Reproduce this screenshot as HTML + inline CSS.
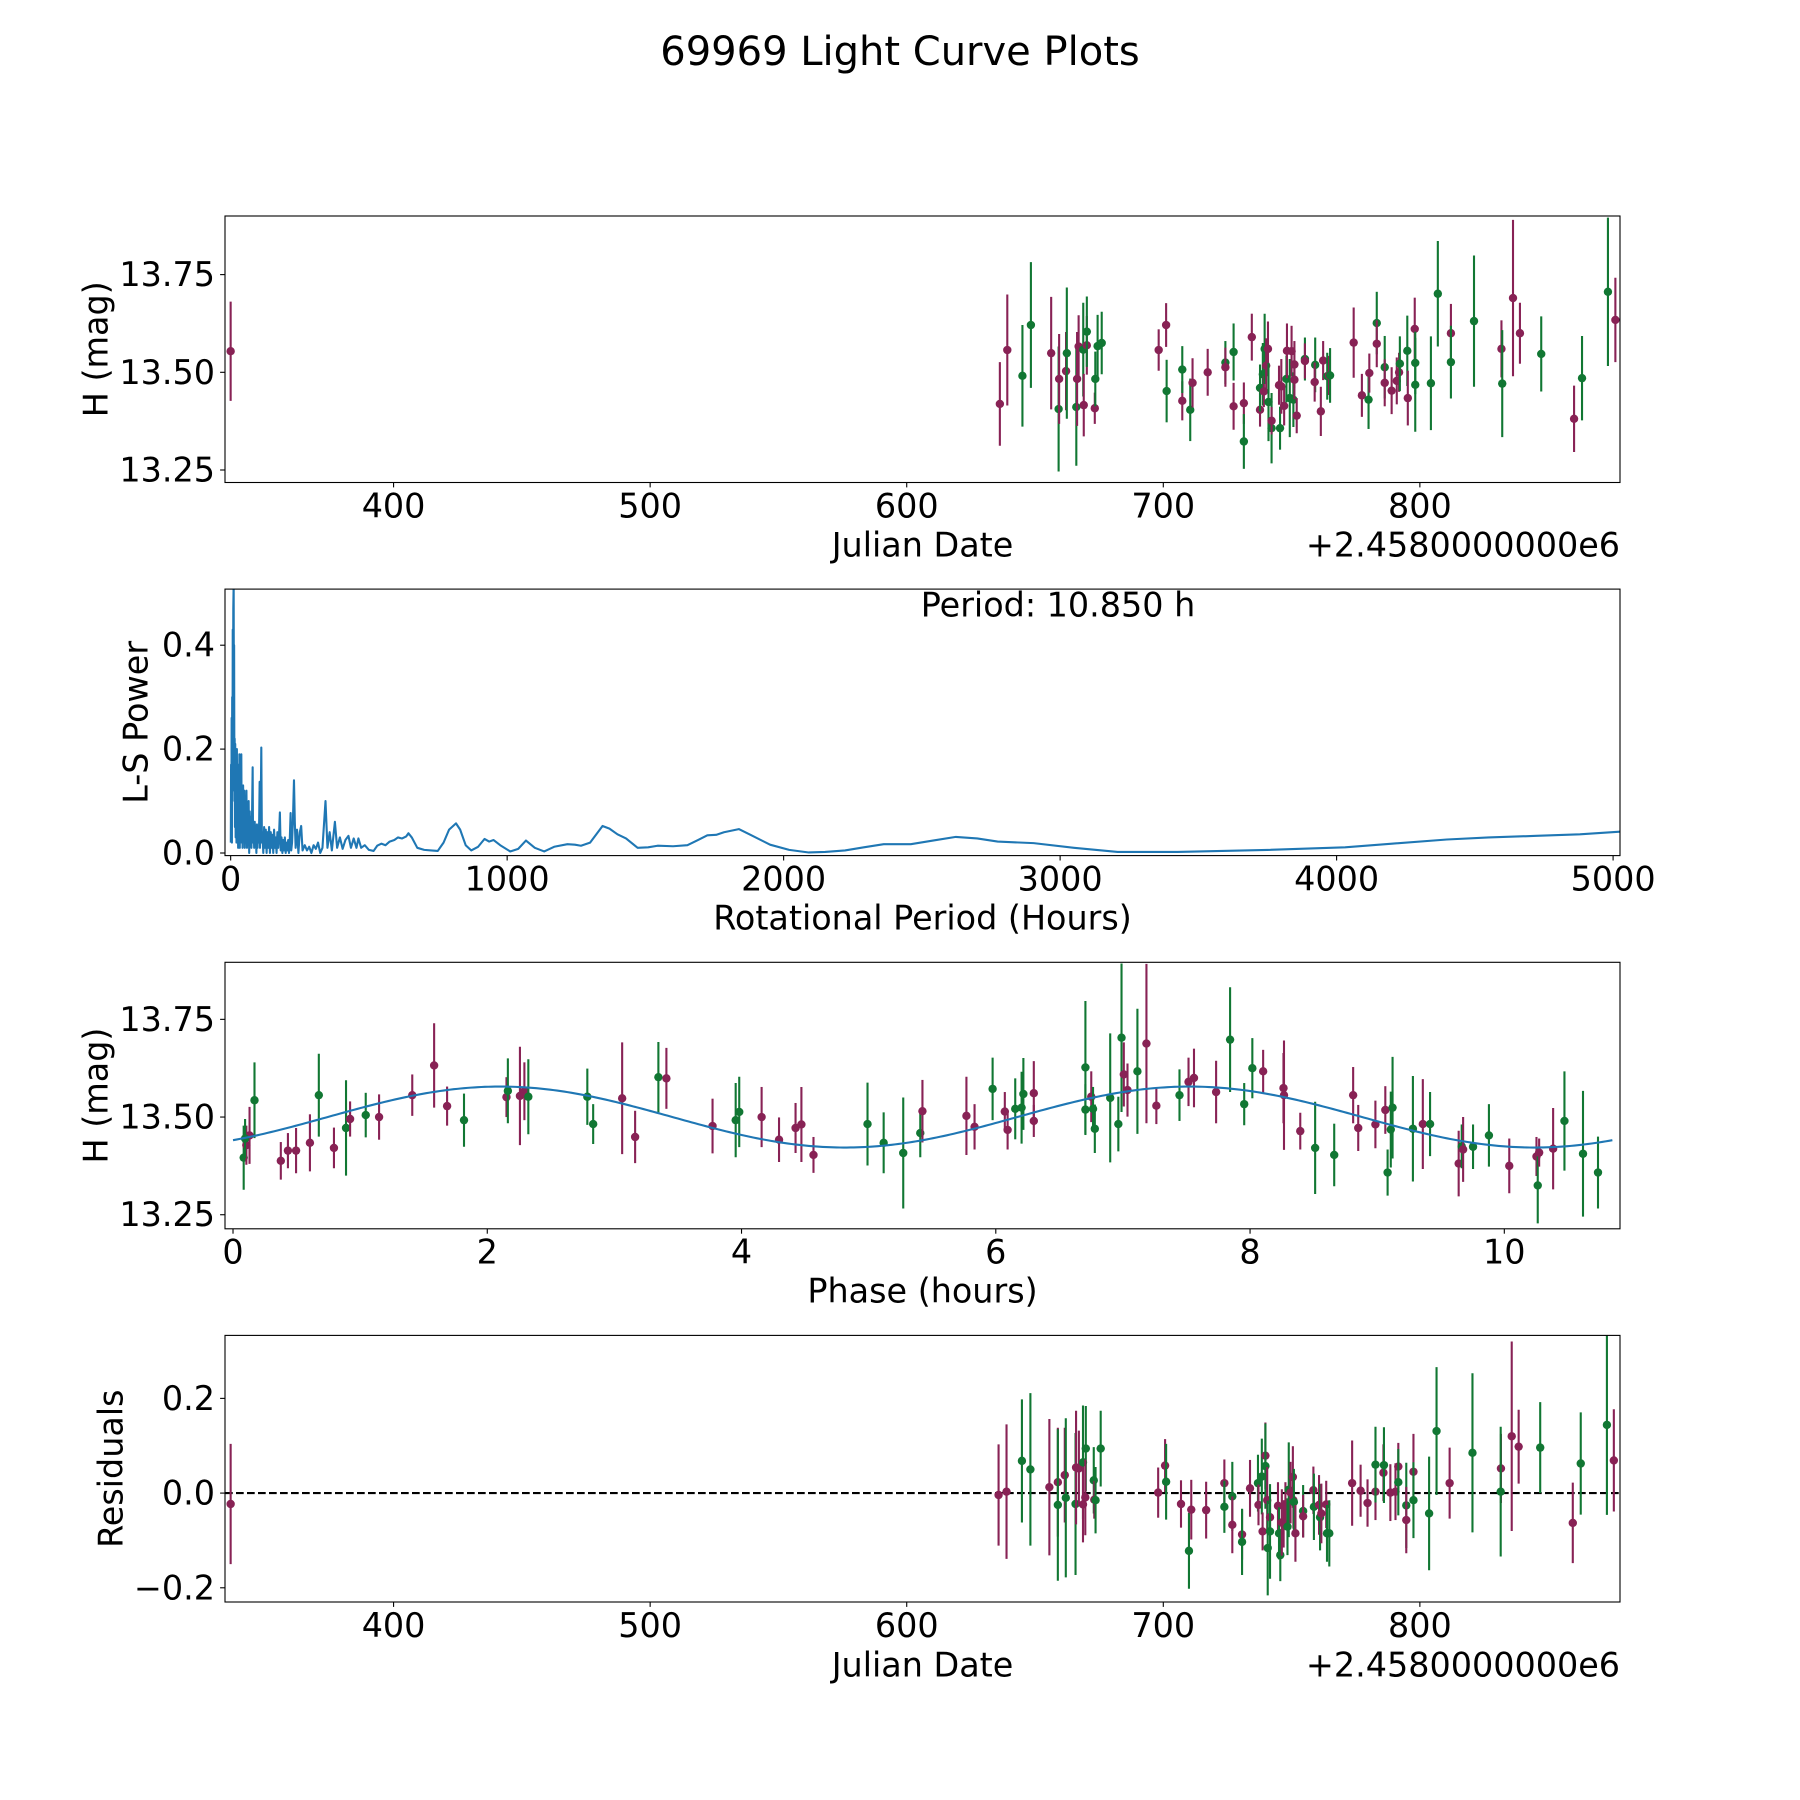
<!DOCTYPE html>
<html><head><meta charset="utf-8"><title>69969 Light Curve Plots</title>
<style>
html,body{margin:0;padding:0;background:#fff;}
svg{display:block;font-family:"DejaVu Sans","Liberation Sans",sans-serif;}
</style></head>
<body>
<svg id="fig" width="1800" height="1800" viewBox="0 0 1800 1800" xmlns="http://www.w3.org/2000/svg">
<rect x="0" y="0" width="1800" height="1800" fill="#fff"/>
<text x="900" y="52" font-size="40" text-anchor="middle" dominant-baseline="central" fill="#000">69969 Light Curve Plots</text>
</svg>
<script>
// ---- Light curve data (JD offset from 2458000, H mag, error, band 0=wine 1=green)
const obsJd = [336.5,636.3,639.2,645.1,648.4,656.3,659.2,659.4,662.1,662.4,666.1,666.4,667,668.8,669,670.2,670.2,673.3,673.5,674.4,676,
698.2,701.1,701.3,707.4,707.4,710.5,711.4,717.3,724.2,724.2,727.4,727.4,731.4,731.4,734.5,737.7,737.7,738.8,739.2,739.5,740.1,740.8,741,742.2,742.2,
745.1,745.5,746,747.1,748,748.2,749.3,750,750.7,751.1,751.1,752,755.2,755.2,759.2,759,761.4,762.3,763.9,764.6,765,
774.2,777.4,780,780.3,783.2,783.2,786.3,786.3,789,791,791.9,792.2,795.1,795.3,798,798.2,798.2,804.3,807,812.1,812.1,821.1,831.8,832.1,836.3,839,847.3,860.1,863.2,873.3,876.2];
const obsMag = [13.554,13.419,13.557,13.491,13.621,13.549,13.406,13.483,13.503,13.549,13.411,13.483,13.566,13.558,13.416,13.569,13.604,13.408,13.483,13.567,13.575,
13.557,13.621,13.452,13.427,13.507,13.404,13.473,13.5,13.525,13.513,13.413,13.552,13.421,13.323,13.59,13.404,13.46,13.495,13.451,13.56,13.517,13.56,13.424,13.357,13.376,
13.467,13.357,13.464,13.414,13.483,13.555,13.434,13.554,13.43,13.52,13.481,13.389,13.534,13.529,13.519,13.475,13.4,13.53,13.49,13.492,13.492,
13.576,13.441,13.43,13.498,13.626,13.573,13.513,13.473,13.453,13.478,13.5,13.522,13.555,13.434,13.611,13.524,13.468,13.472,13.701,13.6,13.526,13.631,13.56,13.471,13.69,13.6,13.547,13.381,13.485,13.706,13.634];
const obsErr = [0.127,0.107,0.142,0.13,0.161,0.144,0.16,0.115,0.1,0.168,0.15,0.12,0.08,0.12,0.08,0.075,0.09,0.04,0.07,0.08,0.08,
0.053,0.056,0.08,0.05,0.06,0.08,0.063,0.06,0.055,0.05,0.06,0.073,0.053,0.07,0.06,0.043,0.06,0.08,0.04,0.09,0.07,0.07,0.1,0.09,0.035,
0.05,0.055,0.07,0.05,0.06,0.07,0.1,0.065,0.07,0.06,0.05,0.045,0.055,0.045,0.07,0.05,0.063,0.05,0.06,0.05,0.07,
0.09,0.055,0.075,0.05,0.08,0.06,0.08,0.06,0.06,0.06,0.05,0.07,0.09,0.07,0.08,0.08,0.12,0.12,0.135,0.075,0.093,0.168,0.073,0.137,0.2,0.078,0.096,0.085,0.108,0.19,0.108];
const obsBand = [0,0,0,1,1,0,1,0,0,1,1,0,0,1,0,0,1,0,1,1,1,
0,0,1,0,1,1,0,0,1,0,0,1,0,1,0,0,1,1,0,1,0,0,1,1,0,
0,1,0,0,1,0,1,0,1,0,0,0,1,0,1,0,0,0,1,0,1,
0,0,1,0,1,0,1,0,0,0,0,1,1,0,0,1,1,1,1,0,1,1,0,1,0,0,1,0,1,1,0];

// ---- Periodogram data (period in hours, L-S power)
const lsPeriod = [0.5,1.5,2.5,3.5,4.5,5.5,6.5,7.5,8.5,9.5,10.85,11.5,12.5,13.5,14.5,15.5,16.5,18,19.5,21,22.5,24,25.5,27,28.5,30,31.5,33,34.5,36,37.5,38.5,40,41.5,43,45,47,49,51,53,55,57,59,61,63,65,67,69,71,73,75,77,79.5,81,83,85,87,89,91,93,95,97,99,101,103,104.8,106,108,110.8,113,115,118,121,124,127,130,133,136,139,142,145,148,151,154,157,160,163,166,169,172,175,178,181,184,187,190,193,196,199,202,205,208,211,214,216.8,219,222,225,229,232,235,240,245,250,255,260,268,276,284,292,300,308,316,324,332,343,350,358,366,377,385,395,405,415,426,435,445,455,462,472,485,500,517,530,545,560,575,592,605,620,635,643,655,675,700,725,749,770,790,815,830,850,870,895,918,935,951,975,1011,1040,1068,1100,1134,1170,1218,1245,1267,1300,1345,1370,1399,1430,1472,1510,1544,1600,1652,1690,1724,1756,1784,1838,1880,1951,2020,2091,2150,2222,2290,2362,2460,2540,2623,2700,2774,2904,3050,3208,3424,3749,4031,4200,4399,4550,4723,4880,5024];
const lsPower = [0.02,0.17,0.05,0.26,0.02,0.3,0.1,0.43,0.2,0.47,0.52,0.3,0.4,0.12,0.22,0.05,0.21,0.03,0.19,0.02,0.2,0.04,0.17,0.01,0.15,0.03,0.19,0.01,0.15,0.02,0.12,0.19,0.02,0.11,0.01,0.13,0.03,0.12,0.01,0.1,0.02,0.12,0.01,0.09,0.03,0.1,0.0,0.08,0.02,0.07,0.01,0.06,0.165,0.02,0.05,0.01,0.06,0.03,0.04,0.0,0.055,0.01,0.05,0.02,0.06,0.137,0.01,0.05,0.203,0.02,0.04,0.0,0.05,0.01,0.045,0.0,0.04,0.01,0.05,0.0,0.04,0.01,0.035,0.0,0.045,0.01,0.03,0.0,0.04,0.01,0.035,0.078,0.005,0.03,0.0,0.025,0.005,0.03,0.0,0.02,0.005,0.025,0.0,0.03,0.077,0.005,0.02,0.06,0.14,0.06,0.01,0.045,0.0,0.04,0.052,0.005,0.015,0.005,0.012,0.0,0.015,0.008,0.02,0.0,0.01,0.1,0.01,0.04,0.005,0.06,0.01,0.03,0.008,0.025,0.033,0.01,0.028,0.01,0.028,0.01,0.015,0.006,0.004,0.014,0.018,0.015,0.022,0.025,0.03,0.028,0.032,0.038,0.03,0.01,0.006,0.005,0.004,0.02,0.045,0.057,0.045,0.015,0.005,0.012,0.027,0.022,0.025,0.015,0.003,0.008,0.024,0.01,0.003,0.012,0.017,0.016,0.014,0.02,0.052,0.047,0.036,0.028,0.01,0.011,0.014,0.013,0.015,0.025,0.034,0.035,0.04,0.046,0.035,0.016,0.006,0.001,0.002,0.005,0.011,0.017,0.017,0.024,0.031,0.028,0.022,0.019,0.01,0.002,0.002,0.006,0.011,0.018,0.026,0.03,0.033,0.036,0.041];
const bestPeriod = 10.850;

// ---- Phased data (phase hours, mag, err, band)
const phHour = [0.084,0.105,0.13,0.095,0.169,0.376,0.432,0.496,0.605,0.675,0.794,0.889,0.921,1.044,1.149,1.41,1.582,1.684,1.817,2.151,2.162,2.257,2.292,2.323,2.787,2.833,3.061,3.163,3.346,3.409,3.772,3.954,3.982,4.158,4.295,4.425,4.471,4.566,4.991,5.118,5.272,5.406,
5.423,5.769,5.833,5.975,6.071,6.093,6.153,6.203,6.217,6.299,6.299,6.705,6.705,6.751,6.765,6.779,6.9,6.964,6.989,7.007,7.036,7.114,7.185,7.263,7.445,7.516,7.559,7.733,7.843,7.954,8.018,8.103,8.263,8.267,8.395,8.512,8.662,8.811,8.851,8.986,9.064,9.082,9.107,9.121,9.281,9.359,9.416,9.641,9.665,9.676,9.754,9.879,10.039,10.253,10.263,10.274,10.384,10.473,10.619,10.737];
const phMag = [13.396,13.428,13.453,13.445,13.543,13.388,13.414,13.414,13.434,13.556,13.421,13.472,13.495,13.505,13.5,13.556,13.632,13.528,13.492,13.551,13.567,13.554,13.566,13.552,13.552,13.482,13.548,13.449,13.602,13.599,13.477,13.492,13.513,13.5,13.442,13.472,13.481,13.403,13.482,13.434,13.408,13.459,
13.515,13.503,13.475,13.572,13.514,13.467,13.521,13.524,13.559,13.561,13.49,13.627,13.519,13.552,13.521,13.47,13.549,13.482,13.703,13.609,13.569,13.617,13.688,13.529,13.556,13.59,13.6,13.564,13.698,13.533,13.625,13.617,13.574,13.556,13.464,13.421,13.403,13.556,13.472,13.481,13.518,13.358,13.468,13.524,13.47,13.482,13.482,13.381,13.425,13.417,13.424,13.453,13.375,13.399,13.325,13.409,13.419,13.49,13.406,13.358];
const phErr = [0.082,0.05,0.073,0.05,0.097,0.048,0.045,0.058,0.073,0.106,0.052,0.122,0.045,0.057,0.058,0.053,0.108,0.05,0.068,0.051,0.083,0.126,0.074,0.096,0.072,0.051,0.143,0.067,0.09,0.078,0.07,0.095,0.09,0.077,0.057,0.064,0.096,0.046,0.106,0.078,0.142,0.062,
0.08,0.1,0.058,0.08,0.05,0.05,0.078,0.092,0.092,0.082,0.041,0.17,0.065,0.065,0.056,0.062,0.165,0.07,0.19,0.082,0.068,0.16,0.204,0.047,0.066,0.062,0.075,0.08,0.134,0.054,0.077,0.055,0.09,0.14,0.047,0.118,0.08,0.072,0.059,0.061,0.061,0.059,0.097,0.13,0.135,0.115,0.082,0.084,0.056,0.083,0.057,0.08,0.07,0.05,0.097,0.036,0.104,0.127,0.161,0.092];
const phBand = [1,0,0,1,1,0,0,0,0,1,0,1,0,1,0,0,0,0,1,0,1,0,0,1,1,1,0,0,1,0,0,1,1,0,0,0,0,0,1,1,1,1,
0,0,0,1,0,0,1,1,1,0,0,1,1,0,1,1,1,1,1,0,0,1,0,0,1,0,0,0,1,1,1,0,0,0,0,1,1,0,0,0,0,1,1,1,1,0,1,0,1,0,1,1,0,0,1,0,0,1,1,1];

// ---- Fit model (double-peaked sinusoid over the rotation period)
const fitMean = 13.5;
const fitAmp = 0.078;
const fitPhase0 = 0.744;

// ---- Residuals (JD offset, residual mag, band)
const resJd = [336.5,635.8,638.9,644.9,648.2,655.6,658.9,658.9,661.6,662,665.8,666,667.1,668.7,668.7,669.8,669.6,672.9,673.1,673.6,675.6,
698,700.7,701.1,706.9,710,710.9,716.7,723.8,723.8,726.9,726.9,730.7,730.7,733.8,736.9,737.1,738.4,738.7,739.8,739.8,740.5,740.7,741.6,741.6,
744.7,745.1,745.6,746.2,746.9,747.6,748.4,748.9,749.6,750.5,750.7,750.9,751.5,754.5,754.5,758.5,758.7,760.7,761.1,761.6,763.5,763.8,764.7,
773.6,776.9,779.6,782.7,782.7,785.8,786,788.5,790.5,791.6,791.6,794.7,794.7,797.5,797.5,803.6,806.5,811.6,820.5,831.6,831.5,835.8,838.5,846.9,859.6,862.7,872.9,875.6];
const resVal = [-0.023,-0.004,0.003,0.068,0.05,0.0125,0.023,-0.025,0.038,-0.01,-0.023,0.054,0.052,0.065,-0.024,0.094,-0.009,0.027,-0.014,-0.015,0.094,
0.001,0.058,0.024,-0.023,-0.122,-0.035,-0.036,0.021,-0.029,-0.007,-0.067,-0.0875,-0.103,0.01,0.021,-0.025,0.035,-0.081,0.079,0.057,-0.015,-0.116,-0.051,-0.081,
-0.027,-0.085,-0.131,-0.062,-0.065,-0.027,-0.071,0.007,0.001,0.034,-0.015,-0.019,-0.085,-0.038,-0.049,0.006,-0.029,-0.025,-0.051,-0.043,-0.024,-0.085,-0.085,
0.021,0.005,-0.021,0.003,0.06,0.043,0.059,0.001,0.003,0.056,0.023,-0.026,-0.057,0.045,-0.015,-0.043,0.131,0.021,0.085,0.052,0.003,0.12,0.098,0.096,-0.063,0.0625,0.144,0.069];
const resBand = [0,0,0,1,1,0,0,1,0,1,1,0,0,1,0,1,0,1,0,1,1,
0,0,1,0,1,0,0,0,1,1,0,0,1,0,1,0,1,0,0,1,0,1,0,1,
0,1,1,0,0,0,1,1,0,0,0,1,0,1,0,0,1,0,1,0,0,1,1,
0,0,0,0,1,0,1,0,0,0,1,1,0,0,1,1,1,0,1,0,1,0,0,1,0,1,1,0];

// ---- Tick labels
const jdTicks = [400,500,600,700,800];
const magTicks = [13.25,13.50,13.75];
const magTickLabels = ["13.25","13.50","13.75"];
const lsXTicks = [0,1000,2000,3000,4000,5000];
const lsYTicks = [0.0,0.2,0.4];
const lsYTickLabels = ["0.0","0.2","0.4"];
const phXTicks = [0,2,4,6,8,10];
const resYTicks = [-0.2,0.0,0.2];
const resYTickLabels = ["\u22120.2","0.0","0.2"];

const COLORS = ["#882255","#117733"];
const NS = "http://www.w3.org/2000/svg";
const svg = document.getElementById("fig");
const LEFT = 225, RIGHT = 1620;
const FS = 33.4;

function mk(tag, attrs, parent) {
  const el = document.createElementNS(NS, tag);
  for (const k in attrs) el.setAttribute(k, attrs[k]);
  (parent || svg).appendChild(el);
  return el;
}
function scale(d0, d1, r0, r1) { return v => r0 + (v - d0) * (r1 - r0) / (d1 - d0); }

function makeAxes(name, top, bottom, xlim, ylim) {
  const g = mk("g", {});
  
  
  const ax = { g, top, bottom, x: scale(xlim[0], xlim[1], LEFT, RIGHT), y: scale(ylim[0], ylim[1], bottom, top) };
  const cid = name + "-clip";
  const cp = mk("clipPath", { id: cid }, g);
  mk("rect", { x: LEFT, y: top, width: RIGHT - LEFT, height: bottom - top }, cp);
  ax.plot = mk("g", { "clip-path": "url(#" + cid + ")" }, g);
  
  
  return ax;
}
function frame(ax) {
  const r = mk("rect", { x: LEFT, y: ax.top, width: RIGHT - LEFT, height: ax.bottom - ax.top, fill: "none", stroke: "#000", "stroke-width": 1.1 }, ax.g);
  
  
}
function xTicks(ax, vals, labels) {
  vals.forEach((v, i) => {
    const px = ax.x(v);
    const t = mk("line", { x1: px, x2: px, y1: ax.bottom, y2: ax.bottom + 4.9, stroke: "#000", "stroke-width": 1.1 }, ax.g);
    
    
    const tx = mk("text", { x: px, y: ax.bottom + 10, "font-size": FS, "text-anchor": "middle", "dominant-baseline": "hanging" }, ax.g);
    tx.textContent = labels[i];
    
    
  });
}
function yTicks(ax, vals, labels) {
  vals.forEach((v, i) => {
    const py = ax.y(v);
    const t = mk("line", { x1: LEFT - 4.9, x2: LEFT, y1: py, y2: py, stroke: "#000", "stroke-width": 1.1 }, ax.g);
    
    
    const tx = mk("text", { x: LEFT - 10, y: py, "font-size": FS, "text-anchor": "end", "dominant-baseline": "central" }, ax.g);
    tx.textContent = labels[i];
    
    
  });
}
function labels(ax, xl, xly, yl, ylx, offset) {
  const a = mk("text", { x: (LEFT + RIGHT) / 2, y: xly, "font-size": FS, "text-anchor": "middle", "dominant-baseline": "central" }, ax.g);
  a.textContent = xl;
  
  
  const cy = (ax.top + ax.bottom) / 2;
  const b = mk("text", { x: ylx, y: cy, "font-size": FS, "text-anchor": "middle", "dominant-baseline": "central", transform: "rotate(-90 " + ylx + " " + cy + ")" }, ax.g);
  b.textContent = yl;
  
  
  if (offset) {
    const o = mk("text", { x: RIGHT, y: xly, "font-size": FS, "text-anchor": "end", "dominant-baseline": "central" }, ax.g);
    o.textContent = "+2.4580000000e6";
    
    
  }
}
function errPoint(ax, xv, yv, ev, band, name) {
  const c = COLORS[band];
  const px = ax.x(xv);
  const eb = mk("line", { x1: px, x2: px, y1: ax.y(yv - ev), y2: ax.y(yv + ev), stroke: c, "stroke-width": 2.1 }, ax.plot);
  
  
  const d = mk("circle", { cx: px, cy: ax.y(yv), r: 4.2, fill: c }, ax.plot);
  
  
}

// Panel 1: light curve
const ax1 = makeAxes("light-curve-panel", 216, 482.5, [334.3, 878], [13.218, 13.9]);
obsJd.forEach((j, i) => errPoint(ax1, j, obsMag[i], obsErr[i], obsBand[i], "observation"));
frame(ax1);
xTicks(ax1, jdTicks, jdTicks.map(String));
yTicks(ax1, magTicks, magTickLabels);
labels(ax1, "Julian Date", 545, "H (mag)", 96, true);

// Panel 2: periodogram
const ax2 = makeAxes("periodogram-panel", 589.1, 855.6, [-20.5, 5025], [-0.005, 0.508]);
const lsd = lsPeriod.map((p, i) => (i ? "L" : "M") + ax2.x(p).toFixed(2) + " " + ax2.y(lsPower[i]).toFixed(2)).join(" ");
const lsLine = mk("path", { d: lsd, fill: "none", stroke: "#1f77b4", "stroke-width": 2.1, "stroke-linejoin": "round" }, ax2.plot);


frame(ax2);
xTicks(ax2, lsXTicks, lsXTicks.map(String));
yTicks(ax2, lsYTicks, lsYTickLabels);
labels(ax2, "Rotational Period (Hours)", 918, "L-S Power", 136, false);
const pt = mk("text", { x: 1058, y: 605, "font-size": FS, "text-anchor": "middle", "dominant-baseline": "central" }, ax2.g);
pt.textContent = "Period: " + bestPeriod.toFixed(3) + " h";



// Panel 3: phased light curve
const ax3 = makeAxes("phase-panel", 962.3, 1228.8, [-0.063, 10.91], [13.214, 13.896]);
phHour.forEach((p, i) => errPoint(ax3, p, phMag[i], phErr[i], phBand[i], "phased"));
let fd = "";
for (let k = 0; k <= 400; k++) {
  const p = bestPeriod * k / 400;
  const m = fitMean + fitAmp * Math.sin(2 * Math.PI * (p - fitPhase0) / (bestPeriod / 2));
  fd += (k ? "L" : "M") + ax3.x(p).toFixed(2) + " " + ax3.y(m).toFixed(2) + " ";
}
const fit = mk("path", { d: fd, fill: "none", stroke: "#1f77b4", "stroke-width": 2.1 }, ax3.plot);


frame(ax3);
xTicks(ax3, phXTicks, phXTicks.map(String));
yTicks(ax3, magTicks, magTickLabels);
labels(ax3, "Phase (hours)", 1291, "H (mag)", 96, false);

// Panel 4: residuals
const ax4 = makeAxes("residuals-panel", 1335.4, 1602, [334.3, 878], [-0.23, 0.333]);
const zl = mk("line", { x1: LEFT, x2: RIGHT, y1: ax4.y(0), y2: ax4.y(0), stroke: "#000", "stroke-width": 2.1, "stroke-dasharray": "7.7 3.3" }, ax4.plot);


resJd.forEach((j, i) => {
  let best = 0, bd = 1e9;
  obsJd.forEach((o, k) => { const d = Math.abs(o - j) + (obsBand[k] === resBand[i] ? 0 : 5); if (d < bd) { bd = d; best = k; } });
  errPoint(ax4, j, resVal[i], obsErr[best], resBand[i], "residual");
});
frame(ax4);
xTicks(ax4, jdTicks, jdTicks.map(String));
yTicks(ax4, resYTicks, resYTickLabels);
labels(ax4, "Julian Date", 1665, "Residuals", 111, true);
</script>
</body></html>
